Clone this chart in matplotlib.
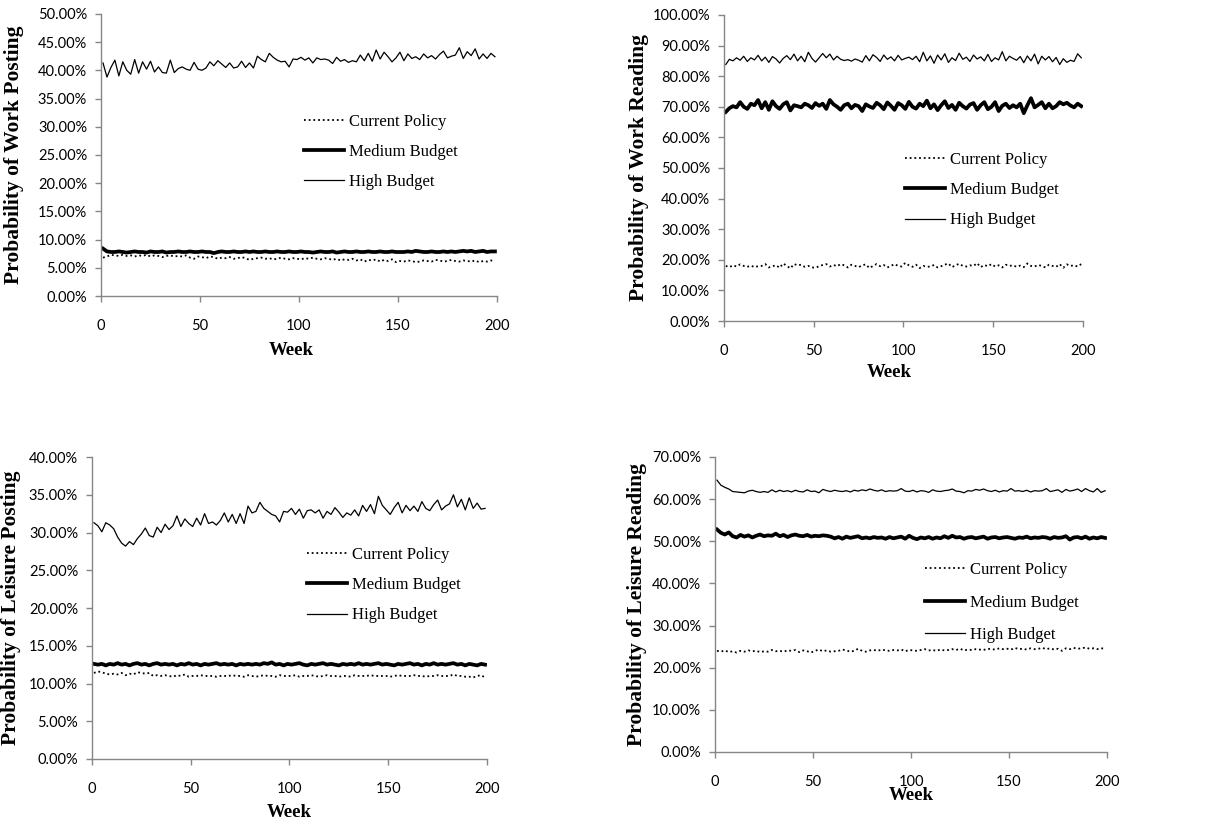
import numpy as np
import matplotlib
matplotlib.use("Agg")
import matplotlib.pyplot as plt
from matplotlib.ticker import PercentFormatter, MultipleLocator

# weeks sampled every second week
weeks = list(range(1, 201, 2))

# ---- Work Posting ----
wp_high = [41.3, 38.8, 40.5, 41.8, 39.0, 41.5, 40.0, 39.3, 41.9, 39.5, 41.5, 40.2, 41.6, 39.7, 40.6, 39.6, 39.5, 41.8, 39.6, 40.3,
           40.6, 40.2, 40.0, 41.4, 40.2, 40.0, 40.4, 41.5, 40.8, 41.7, 41.1, 40.5, 41.3, 40.4, 40.6, 41.6, 40.5, 41.3, 40.4, 42.5,
           41.9, 41.5, 43.0, 42.3, 41.8, 41.5, 41.6, 40.6, 42.0, 41.9, 42.3, 41.8, 42.2, 41.3, 42.2, 41.9, 42.0, 41.8, 41.2, 42.3,
           41.6, 41.9, 41.4, 41.7, 41.5, 42.7, 41.7, 43.0, 41.6, 43.6, 42.0, 43.2, 42.4, 41.5, 42.2, 43.2, 41.7, 42.9, 42.1, 42.4,
           41.9, 42.9, 42.2, 42.6, 42.0, 42.8, 43.4, 42.2, 42.5, 42.7, 44.0, 42.1, 43.3, 42.6, 43.8, 42.0, 42.9, 42.1, 43.0, 42.4]
wp_medium = [8.4, 7.9, 7.8, 7.8, 7.9, 7.8, 7.7, 7.8, 7.9, 7.8,
             7.8, 7.7, 7.9, 7.8, 7.8, 7.9, 7.7, 7.8, 7.8, 7.9,
             7.8, 7.8, 7.9, 7.8, 7.8, 7.9, 7.8, 7.8, 7.6, 7.8,
             7.9, 7.8, 7.8, 7.9, 7.8, 7.8, 7.9, 7.8, 7.9, 7.8,
             7.8, 7.9, 7.8, 7.8, 7.9, 7.8, 7.8, 7.9, 7.8, 7.8,
             7.9, 7.8, 7.8, 7.7, 7.8, 7.9, 7.8, 7.8, 7.9, 7.7,
             7.8, 7.9, 7.8, 7.8, 7.9, 7.8, 7.8, 7.9, 7.8, 7.8,
             7.9, 7.8, 7.8, 7.9, 7.8, 7.8, 7.8, 7.9, 7.8, 8.0,
             7.9, 7.8, 7.8, 7.9, 7.8, 7.8, 7.9, 7.8, 7.9, 7.8,
             7.9, 8.0, 7.9, 8.0, 7.8, 7.9, 8.0, 7.8, 7.9, 7.9]
wp_current = [6.8, 7.0, 7.3, 7.2, 7.1, 7.3, 7.1, 7.2, 7.0, 7.2,
              7.1, 7.3, 7.0, 7.2, 7.1, 6.9, 7.1, 7.2, 7.0, 7.1,
              7.0, 7.2, 6.8, 6.6, 7.0, 6.9, 6.7, 7.0, 6.9, 6.6,
              6.8, 6.7, 6.9, 6.6, 6.7, 6.9, 6.7, 6.4, 6.6, 6.7,
              6.8, 6.6, 6.7, 6.5, 6.6, 6.8, 6.6, 6.5, 6.7, 6.6,
              6.5, 6.7, 6.6, 6.8, 6.6, 6.5, 6.7, 6.6, 6.4, 6.6,
              6.3, 6.5, 6.4, 6.6, 6.3, 6.5, 6.1, 6.4, 6.3, 6.5,
              6.1, 6.4, 6.2, 6.5, 6.0, 6.2, 6.1, 6.3, 6.2, 6.0,
              6.1, 6.3, 6.2, 6.1, 6.4, 6.3, 6.1, 6.2, 6.4, 6.2,
              6.1, 6.3, 6.2, 6.1, 6.3, 6.0, 6.2, 6.1, 6.3, 6.2]

# ---- Work Reading ----
wr_high = [83.8, 85.5, 85.0, 86.0, 85.2, 86.5, 84.8, 86.0, 85.3, 86.8,
           85.0, 86.2, 84.5, 86.4, 85.6, 84.3, 85.8, 86.7, 85.4, 87.2,
           85.0, 86.5, 84.7, 87.8, 85.8, 84.6, 86.0, 87.4, 86.0, 87.2,
           85.3, 86.5, 85.5, 85.1, 85.4, 84.9, 85.6, 85.2, 84.6, 86.7,
           85.0, 87.0, 86.1, 84.8, 86.9, 85.5, 86.3, 85.0, 86.8, 85.3,
           85.8, 86.2, 85.4, 86.5, 84.7, 87.8, 85.0, 86.6, 84.2, 86.9,
           85.3, 87.3, 84.5, 86.0, 85.1, 87.5, 85.5, 86.2, 84.8, 86.9,
           85.6, 86.3, 85.0, 87.1, 84.8, 86.0, 85.3, 88.0, 85.0, 86.5,
           85.8, 85.2, 86.4, 84.4, 86.6, 85.0, 87.2, 84.0, 86.5, 85.3,
           86.4, 84.7, 86.1, 83.8, 85.7, 84.5, 85.2, 84.8, 87.3, 86.0]
wr_medium = [68.3, 69.5, 70.2, 69.8, 71.5, 70.0, 69.3, 71.0, 70.5, 72.2,
             69.5, 71.5, 69.0, 71.8, 70.2, 69.3, 70.8, 71.5, 68.8, 70.5,
             70.2, 69.8, 71.0, 70.5, 69.6, 71.2, 70.3, 71.0, 69.3, 72.2,
             70.8, 70.0, 69.0, 70.5, 71.0, 69.5, 70.6, 70.2, 68.6, 70.8,
             70.1, 69.6, 71.3, 70.5, 69.2, 71.4, 70.3, 69.0, 71.2, 70.5,
             69.3, 71.6, 70.0, 69.4, 71.0, 70.2, 72.0, 69.5, 70.8, 68.9,
             70.5, 71.8, 69.6, 70.6, 69.0, 71.3, 70.2, 69.4, 70.7, 71.2,
             69.0, 70.5, 71.5, 69.2, 70.0, 71.5, 68.6, 70.3, 71.0, 69.6,
             70.5, 69.8, 71.0, 67.9, 70.5, 72.8, 69.8, 70.6, 71.5, 69.5,
             71.0, 69.5, 70.2, 71.5, 70.8, 71.3, 70.4, 69.8, 71.0, 70.2]
wr_current = [18.0, 17.6, 18.2, 17.8, 18.5, 18.0, 17.7, 18.1, 17.6, 17.9,
              18.0, 18.6, 17.5, 17.9, 18.2, 17.4, 18.8, 18.0, 17.2, 18.6,
              18.2, 18.4, 17.7, 18.0, 17.5, 17.4, 17.9, 18.3, 18.6, 17.8,
              18.3, 17.9, 18.6, 18.2, 17.5, 18.4, 18.0, 17.6, 18.2, 18.5,
              17.3, 18.0, 18.6, 17.9, 18.3, 17.5, 18.0, 18.6, 18.0, 17.8,
              19.0, 18.2, 17.7, 18.4, 17.3, 18.0, 17.7, 17.8, 18.3, 17.5,
              17.9, 18.4, 18.8, 17.6, 18.2, 18.7, 18.0, 17.8, 18.2, 18.0,
              18.9, 17.6, 18.3, 17.9, 18.6, 17.8, 18.2, 17.5, 18.4, 18.0,
              18.2, 17.7, 18.1, 17.6, 18.8, 18.0, 17.8, 18.3, 18.0, 17.5,
              18.4, 18.0, 17.7, 18.6, 17.4, 18.5, 18.0, 18.2, 17.8, 18.6]

# ---- Leisure Posting ----
lp_high = [31.3, 30.9, 30.1, 31.3, 31.0, 30.5, 29.4, 28.6, 28.2, 28.8,
           28.4, 29.2, 29.8, 30.6, 29.6, 29.4, 30.7, 30.0, 31.1, 30.4,
           30.9, 32.2, 30.8, 31.8, 31.2, 30.8, 31.9, 31.0, 32.5, 31.2,
           31.4, 31.0, 31.6, 32.6, 31.4, 32.4, 31.2, 32.5, 31.2, 33.5,
           32.6, 32.8, 34.0, 33.2, 32.8, 32.4, 32.2, 31.4, 32.8, 32.7,
           33.2, 32.4, 33.1, 31.9, 32.9, 33.0, 32.6, 33.0, 31.9, 32.8,
           32.4, 33.3, 32.7, 32.0, 32.6, 32.3, 33.0, 32.2, 33.6, 32.8,
           33.7, 32.5, 34.8, 33.6, 33.0, 32.4, 33.3, 34.0, 32.6, 33.6,
           32.9, 33.5, 32.8, 34.1, 33.2, 32.9, 33.7, 34.3, 33.0, 33.5,
           33.8, 35.0, 33.4, 34.4, 33.0, 34.6, 33.2, 33.9, 33.1, 33.2]
lp_medium = [12.6, 12.5, 12.6, 12.4, 12.6, 12.5, 12.7, 12.5, 12.6, 12.4,
             12.6, 12.7, 12.5, 12.6, 12.4, 12.6, 12.7, 12.5, 12.6, 12.5,
             12.6, 12.4, 12.6, 12.5, 12.7, 12.5, 12.6, 12.4, 12.6, 12.5,
             12.6, 12.7, 12.5, 12.6, 12.5, 12.6, 12.4, 12.6, 12.5, 12.6,
             12.5, 12.6, 12.5, 12.7, 12.6, 12.8, 12.5, 12.6, 12.4, 12.6,
             12.5, 12.6, 12.7, 12.5, 12.4, 12.6, 12.5, 12.6, 12.7, 12.5,
             12.6, 12.5, 12.4, 12.6, 12.5, 12.6, 12.5, 12.7, 12.5, 12.6,
             12.5, 12.6, 12.7, 12.5, 12.6, 12.5, 12.4, 12.6, 12.5, 12.6,
             12.7, 12.5, 12.6, 12.4, 12.6, 12.5, 12.7, 12.5, 12.6, 12.5,
             12.6, 12.7, 12.5, 12.6, 12.4, 12.6, 12.5, 12.4, 12.6, 12.5]
lp_current = [11.4, 11.6, 11.5, 11.3, 11.2, 11.3, 11.2, 11.4, 11.1, 11.3,
              11.2, 11.5, 11.4, 11.3, 11.4, 11.0, 11.1, 11.0, 11.1, 11.0,
              10.9, 11.1, 11.0, 11.2, 10.9, 11.0, 11.0, 11.1, 11.0, 11.0,
              11.0, 10.9, 11.0, 11.0, 11.0, 11.1, 11.0, 11.0, 10.9, 11.1,
              11.0, 10.9, 11.0, 11.1, 11.0, 11.0, 10.9, 11.1, 11.0, 11.0,
              11.0, 11.1, 10.9, 11.0, 11.0, 11.1, 11.0, 10.9, 11.0, 11.1,
              11.0, 11.0, 10.9, 11.0, 11.0, 10.9, 11.1, 11.0, 11.0, 11.0,
              11.1, 11.0, 11.0, 11.0, 11.0, 10.9, 11.0, 11.1, 11.0, 11.0,
              11.0, 11.1, 11.0, 11.0, 10.9, 11.0, 11.0, 11.1, 11.0, 11.0,
              11.0, 11.2, 11.0, 11.0, 10.9, 10.9, 10.8, 11.0, 11.1, 10.8]

# ---- Leisure Reading ----
lr_high = [64.5, 63.3, 62.8, 62.4, 61.8, 61.7, 61.6, 61.5, 61.9, 62.1,
           61.8, 61.6, 61.8, 61.6, 62.2, 61.7, 62.1, 61.8, 62.0, 61.7,
           62.1, 61.8, 61.7, 62.2, 61.8, 61.9, 61.5, 62.3, 62.0, 61.8,
           62.1, 61.9, 61.8, 62.0, 61.7, 62.1, 61.9, 62.2, 62.0, 62.4,
           62.1, 61.9, 62.2, 61.8, 62.0, 61.9, 62.0, 62.5, 61.9, 61.8,
           62.1, 61.7, 62.0, 61.9, 61.6, 62.2, 61.9, 61.8, 62.0, 62.1,
           62.4, 61.9, 61.8, 61.5, 62.0, 61.9, 62.3, 62.1, 62.4, 62.0,
           61.8, 62.1, 61.7, 62.0, 61.9, 62.5, 61.9, 62.0, 61.8, 62.1,
           61.7, 62.0, 61.9, 62.0, 62.5, 61.8, 62.0, 62.2, 61.6, 62.3,
           61.9, 62.1, 62.4, 61.8, 62.5, 62.0, 61.7, 62.5, 61.6, 62.0]
lr_medium = [52.8, 52.0, 51.6, 52.1, 51.2, 50.9, 51.5, 51.1, 51.4, 50.9,
             51.3, 51.6, 51.2, 51.4, 51.3, 51.8, 51.2, 51.5, 51.0, 51.4,
             51.6, 51.3, 51.2, 51.5, 51.1, 51.3, 51.2, 51.4, 51.3, 51.1,
             50.7, 51.0, 50.6, 51.1, 50.8, 51.0, 51.2, 50.7, 50.9, 50.7,
             51.0, 50.8, 50.9, 50.6, 51.0, 50.7, 50.9, 51.1, 50.6, 51.3,
             50.8, 50.5, 50.9, 50.7, 51.0, 50.6, 50.9, 50.7, 51.2, 50.8,
             51.3, 50.9, 51.0, 50.6, 50.9, 51.0, 50.7, 50.9, 51.1, 50.6,
             50.9, 51.0, 50.7, 50.9, 51.0, 50.8, 50.6, 50.9, 50.8, 51.1,
             50.7, 50.9, 50.8, 51.0, 50.9, 50.6, 51.0, 50.8, 50.9, 51.2,
             50.4, 50.9, 51.0, 50.7, 51.1, 50.6, 50.9, 50.7, 51.0, 50.8]
lr_current = [24.0, 23.8, 24.1, 23.7, 23.9, 23.6, 24.0, 23.8, 24.1, 23.9,
              24.0, 23.7, 23.9, 23.8, 24.2, 23.9, 24.0, 23.8, 24.1, 24.0,
              24.2, 23.7, 24.1, 23.9, 23.6, 24.0, 24.3, 23.9, 24.1, 23.8,
              23.9, 24.0, 24.3, 24.1, 23.8, 24.0, 24.5, 24.0, 23.8, 24.1,
              24.2, 24.0, 24.3, 24.1, 24.0, 24.2, 24.1, 24.3, 23.9, 24.2,
              24.1, 24.0, 24.2, 24.4, 24.1, 24.2, 24.0, 24.3, 24.1, 24.2,
              24.4, 24.2, 24.5, 24.1, 24.3, 24.2, 24.4, 24.3, 24.2, 24.5,
              24.4, 24.3, 24.6, 24.4, 24.5, 24.3, 24.7, 24.4, 24.5, 24.3,
              24.6, 24.4, 24.5, 24.7, 24.4, 24.6, 24.3, 24.5, 24.0, 24.6,
              24.4, 24.7, 24.5, 24.6, 24.8, 24.5, 24.6, 24.4, 24.6, 24.5]

labels = ["Current Policy", "Medium Budget", "High Budget"]

spine_col = "#868686"
tick_font = "Lato"
serif = "Liberation Serif"

fig = plt.figure(figsize=(12.07, 8.25), dpi=100)


def panel(rect, cur, med, high, ymax, ystep, ylabel, ylab_x, xlab_pos, leg_anchor, leg_space):
    ax = fig.add_axes(rect)
    ax.plot(weeks, cur, color="black", lw=1.3, linestyle=(0, (1, 1.6)))
    ax.plot(weeks, med, color="black", lw=2.7)
    ax.plot(weeks, high, color="black", lw=0.9)
    ax.set_xlim(0, 200)
    ax.set_ylim(0, ymax)
    ax.xaxis.set_major_locator(MultipleLocator(50))
    ax.yaxis.set_major_locator(MultipleLocator(ystep))
    ax.yaxis.set_major_formatter(PercentFormatter(decimals=2))
    for s in ["top", "right"]:
        ax.spines[s].set_visible(False)
    for s in ["left", "bottom"]:
        ax.spines[s].set_color(spine_col)
        ax.spines[s].set_linewidth(1.0)
    ax.tick_params(direction="out", length=4, width=1.0, color=spine_col, labelsize=10.5)
    ax.tick_params(axis="y", pad=6)
    ax.tick_params(axis="x", pad=12.5)
    for t in ax.get_xticklabels() + ax.get_yticklabels():
        t.set_fontfamily(tick_font)
    ax.set_ylabel(ylabel, fontfamily=serif, fontweight="bold", fontsize=15.5)
    ax.yaxis.set_label_coords(ylab_x, 0.5)
    ax.set_xlabel("Week", fontfamily=serif, fontweight="bold", fontsize=13.5)
    ax.xaxis.set_label_coords(xlab_pos[0], xlab_pos[1])
    ax.legend(labels, loc="upper left", bbox_to_anchor=leg_anchor, frameon=False,
              prop={"family": serif, "size": 12}, handlelength=2.4,
              handletextpad=0.3, borderpad=0, borderaxespad=0,
              labelspacing=leg_space)
    return ax


panel([0.0837, 0.6412, 0.328, 0.342], wp_current, wp_medium, wp_high, 50, 5,
      "Probability of Work Posting", -0.194, (0.48, -0.163), (0.513, 0.646), 0.85)
panel([0.5998, 0.6109, 0.2975, 0.371], wr_current, wr_medium, wr_high, 100, 10,
      "Probability of Work Reading", -0.209, (0.46, -0.14), (0.504, 0.552), 0.85)
panel([0.0762, 0.0800, 0.3273, 0.366], lp_current, lp_medium, lp_high, 40, 5,
      "Probability of Leisure Posting", -0.18, (0.5, -0.149), (0.544, 0.702), 0.85)
panel([0.5924, 0.0885, 0.3248, 0.3576], lr_current, lr_medium, lr_high, 70, 10,
      "Probability of Leisure Reading", -0.173, (0.5, -0.119), (0.536, 0.644), 1.0)

fig.savefig("out.png", dpi=100)
